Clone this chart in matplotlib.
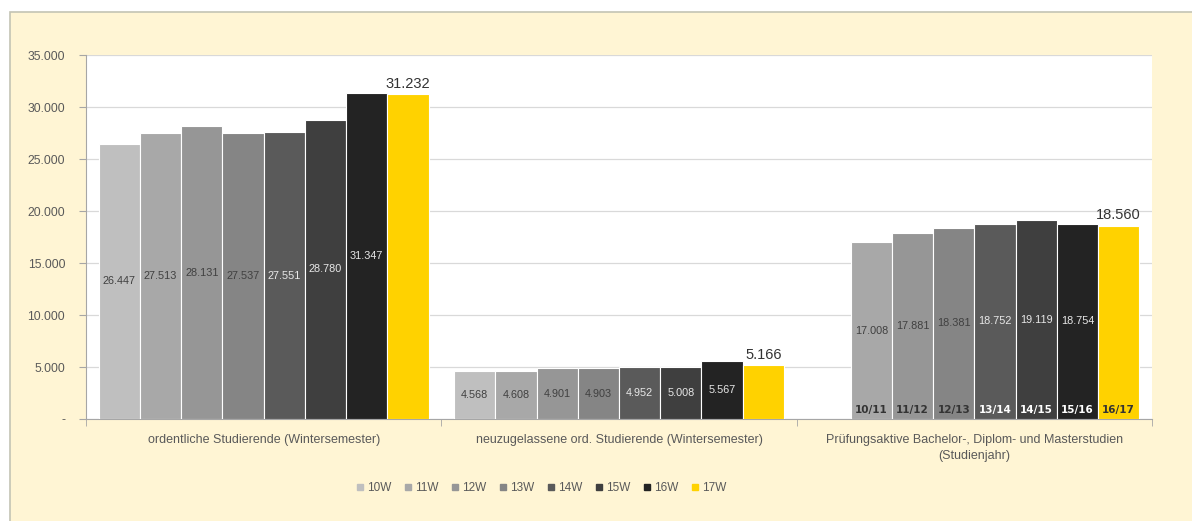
import matplotlib
matplotlib.use("Agg")
import matplotlib.pyplot as plt
import numpy as np
from matplotlib.lines import Line2D
from matplotlib.patches import Rectangle

plt.rcParams["font.family"] = ["Liberation Sans", "DejaVu Sans"]

categories = [
    "ordentliche Studierende (Wintersemester)",
    "neuzugelassene ord. Studierende (Wintersemester)",
    "Prüfungsaktive Bachelor-, Diplom- und Masterstudien\n(Studienjahr)",
]
series = ["10W", "11W", "12W", "13W", "14W", "15W", "16W", "17W"]
ordentliche = [26447, 27513, 28131, 27537, 27551, 28780, 31347, 31232]
neuzugelassene = [4568, 4608, 4901, 4903, 4952, 5008, 5567, 5166]
pruefungsaktiv = [np.nan, 17008, 17881, 18381, 18752, 19119, 18754, 18560]
studienjahre = ["", "10/11", "11/12", "12/13", "13/14", "14/15", "15/16", "16/17"]
yticks = [0, 5000, 10000, 15000, 20000, 25000, 30000, 35000]

COLORS = ["#bfbfbf", "#a8a8a8", "#969696", "#858585", "#5a5a5a", "#3f3f3f", "#232323", "#ffd200"]
LABEL_COLORS = ["#404040", "#404040", "#404040", "#404040", "#e8e8e8", "#e8e8e8", "#e8e8e8", "#404040"]
YEAR_COLORS = ["#333333", "#333333", "#333333", "#333333", "#ffffff", "#ffffff", "#ffffff", "#333333"]
TEXT = "#595959"
CREAM = "#fff5d4"


def de_fmt(v):
    return "-" if v == 0 else f"{v:,.0f}".replace(",", ".")


data = np.array([ordentliche, neuzugelassene, pruefungsaktiv], dtype=float)

fig = plt.figure(figsize=(11.92, 5.21), dpi=100, facecolor="white")
fig.patches.append(Rectangle((10 / 1192, -0.05), 1.0, 1.05 - 12 / 521, transform=fig.transFigure,
                             facecolor=CREAM, edgecolor="#c4c4b4", lw=1.2, zorder=-10))
ax = fig.add_axes([86 / 1192, 102 / 521, 1066 / 1192, 364 / 521])
ax.set_facecolor("white")

w = 0.116
x = np.arange(len(categories))
for i, s in enumerate(series):
    xs = x + (i - 3.5) * w
    vals = data[:, i]
    ax.bar(xs, vals, width=w, color=COLORS[i], edgecolor="white", lw=0.8, zorder=3)
    for j, (xx, v) in enumerate(zip(xs, vals)):
        if np.isnan(v):
            continue
        if i == len(series) - 1:
            ax.text(xx, v + 350, de_fmt(v), ha="center", va="bottom", fontsize=10.5,
                    color="#333333", zorder=4)
        else:
            ax.text(xx, v / 2, de_fmt(v), ha="center", va="center", fontsize=7.8,
                    color=LABEL_COLORS[i], zorder=4)
    # Studienjahr labels at the foot of the third group
    if studienjahre[i]:
        ax.text(xs[2], 850, studienjahre[i], ha="center", va="center", fontsize=7.5,
                fontweight="bold", family="DejaVu Sans", color=YEAR_COLORS[i], zorder=4)

ax.set_xlim(-0.5, 2.5)
ax.set_ylim(0, 35000)
ax.set_yticks(yticks)
ax.set_yticklabels([de_fmt(v) for v in yticks], fontsize=8.7, color=TEXT)
ax.yaxis.grid(True, color="#d9d9d9", lw=0.9, zorder=0)
ax.set_axisbelow(True)
ax.set_xticks(x)
ax.set_xticklabels(categories, fontsize=9, color=TEXT, linespacing=1.45)
ax.tick_params(axis="x", which="major", length=0, pad=11)
ax.set_xticks([-0.5, 0.5, 1.5, 2.5], minor=True)
ax.tick_params(axis="x", which="minor", length=5, color="#a6a6a6")
ax.tick_params(axis="y", length=5, color="#a6a6a6", pad=10)
for side in ("top", "right"):
    ax.spines[side].set_visible(False)
for side in ("left", "bottom"):
    ax.spines[side].set_color("#a6a6a6")

handles = [Line2D([], [], marker="s", ls="", color=c, markersize=5) for c in COLORS]
fig.legend(handles, series, loc="center", bbox_to_anchor=(540 / 1192, 1 - 488 / 521), ncol=8,
           frameon=False, fontsize=8.5, labelcolor=TEXT, handletextpad=0.1, columnspacing=0.9,
           handlelength=1.0)

fig.savefig("out.png", dpi=100, facecolor=fig.get_facecolor())
